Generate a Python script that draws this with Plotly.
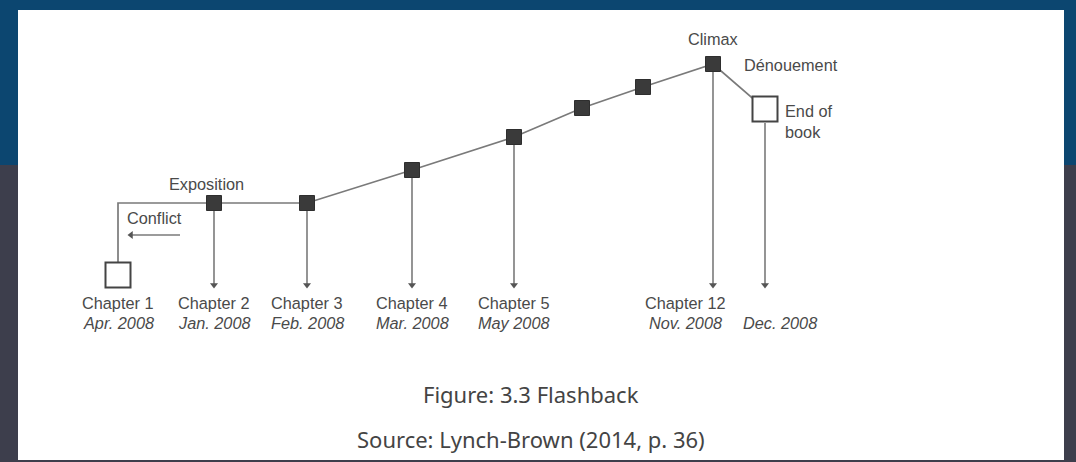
import plotly.graph_objects as go

# ---- data (story position along the book vs. tension level) ----
plot_x = [118, 118, 214, 307, 412, 514, 582, 643, 713, 765]
plot_tension = [187, 259, 259, 259, 292, 325, 354, 375, 398, 353]

# chapters with a downward arrow to the timeline
arrow_x = [214, 307, 412, 514, 713, 765]
arrow_top = [251, 251, 284, 317, 390, 339]
timeline_level = 175

# chapter labels on the timeline
label_x = [118, 214, 307, 412, 514, 685, 780]
chapter_labels = ["Chapter 1", "Chapter 2", "Chapter 3", "Chapter 4", "Chapter 5", "Chapter 12", ""]
date_labels = ["Apr. 2008", "Jan. 2008", "Feb. 2008", "Mar. 2008", "May 2008", "Nov. 2008", "Dec. 2008"]

# filled (chapter) markers and open (start / end) markers
filled_x = [214, 307, 412, 514, 582, 643, 713]
filled_t = [259, 259, 292, 325, 354, 375, 398]
open_x = [118, 765]
open_t = [187, 353]

# conflict arrow
conflict_x = [180, 131]
conflict_t = [227, 227]

TXT = "#4a4a4a"
LINE = "#7a7a7a"
FONT = "Liberation Sans, Arial, sans-serif"
FS = 16.3

fig = go.Figure()

# stems
sx, sy = [], []
for x, t in zip(arrow_x, arrow_top):
    sx += [x, x, None]
    sy += [t, timeline_level + 3, None]
fig.add_trace(go.Scatter(x=sx, y=sy, mode="lines", line=dict(color=LINE, width=1.6),
                         hoverinfo="skip", showlegend=False))
fig.add_trace(go.Scatter(x=arrow_x, y=[timeline_level + 2] * len(arrow_x), mode="markers",
                         marker=dict(symbol="triangle-down", size=7, color="#555555"),
                         hoverinfo="skip", showlegend=False))

# plot line
fig.add_trace(go.Scatter(x=plot_x, y=plot_tension, mode="lines",
                         line=dict(color=LINE, width=1.7), hoverinfo="skip", showlegend=False))

# conflict arrow
fig.add_trace(go.Scatter(x=conflict_x, y=conflict_t, mode="lines",
                         line=dict(color=LINE, width=1.5), hoverinfo="skip", showlegend=False))
fig.add_trace(go.Scatter(x=[conflict_x[1]], y=[conflict_t[1]], mode="markers",
                         marker=dict(symbol="triangle-left", size=7, color="#555555"),
                         hoverinfo="skip", showlegend=False))

# markers
fig.add_trace(go.Scatter(x=filled_x, y=filled_t, mode="markers",
                         marker=dict(symbol="square", size=15, color="#3a3a3a",
                                     line=dict(color="#2e2e2e", width=1)),
                         hoverinfo="skip", showlegend=False))
fig.add_trace(go.Scatter(x=open_x, y=open_t, mode="markers",
                         marker=dict(symbol="square", size=25, color="white",
                                     line=dict(color="#444444", width=2)),
                         hoverinfo="skip", showlegend=False))

ann = []
for x, c, d in zip(label_x, chapter_labels, date_labels):
    if c:
        ann.append(dict(x=x, y=159, text=c, showarrow=False, xanchor="center", yanchor="middle",
                        font=dict(family=FONT, size=FS, color=TXT)))
    ann.append(dict(x=x, y=139, text="<i>" + d + "</i>", showarrow=False, xanchor="center",
                    yanchor="middle", font=dict(family=FONT, size=FS, color=TXT)))

story_labels = [
    dict(x=206, y=278, text="Exposition", xanchor="center"),
    dict(x=125, y=244, text="Conflict", xanchor="left"),
    dict(x=713, y=423, text="Climax", xanchor="center"),
    dict(x=742, y=397, text="Dénouement", xanchor="left"),
    dict(x=783, y=341, text="End of<br>book", xanchor="left"),
]
for s in story_labels:
    ann.append(dict(x=s["x"], y=s["y"], text=s["text"], showarrow=False, xanchor=s["xanchor"],
                    yanchor="middle", align="left",
                    font=dict(family=FONT, size=FS, color=TXT)))

ann.append(dict(x=531, y=68, text="Figure: 3.3 Flashback", showarrow=False, xanchor="center",
                yanchor="middle", font=dict(family="Noto Sans, sans-serif", size=22, color="#444444")))
ann.append(dict(x=531, y=23, text="Source: Lynch-Brown (2014, p. 36)", showarrow=False,
                xanchor="center", yanchor="middle",
                font=dict(family="Noto Sans, sans-serif", size=22, color="#444444")))

shapes = [
    dict(type="rect", xref="paper", yref="paper", x0=0, x1=1, y0=1 - 165 / 462, y1=1,
         fillcolor="#0c4670", line=dict(width=0), layer="below"),
    dict(type="rect", xref="paper", yref="paper", x0=18 / 1076, x1=1064 / 1076,
         y0=1 - 460 / 462, y1=1 - 10 / 462, fillcolor="white", line=dict(width=0), layer="below"),
]

fig.update_layout(
    width=1076, height=462,
    margin=dict(l=0, r=0, t=0, b=0),
    paper_bgcolor="#3d3e4c", plot_bgcolor="rgba(0,0,0,0)",
    xaxis=dict(range=[0, 1076], visible=False, fixedrange=True),
    yaxis=dict(range=[0, 462], visible=False, fixedrange=True),
    annotations=ann, shapes=shapes, showlegend=False,
)

fig.write_html("out.html", config={"displayModeBar": False},
               post_script="document.body.style.margin='0';document.body.style.overflow='hidden';")
